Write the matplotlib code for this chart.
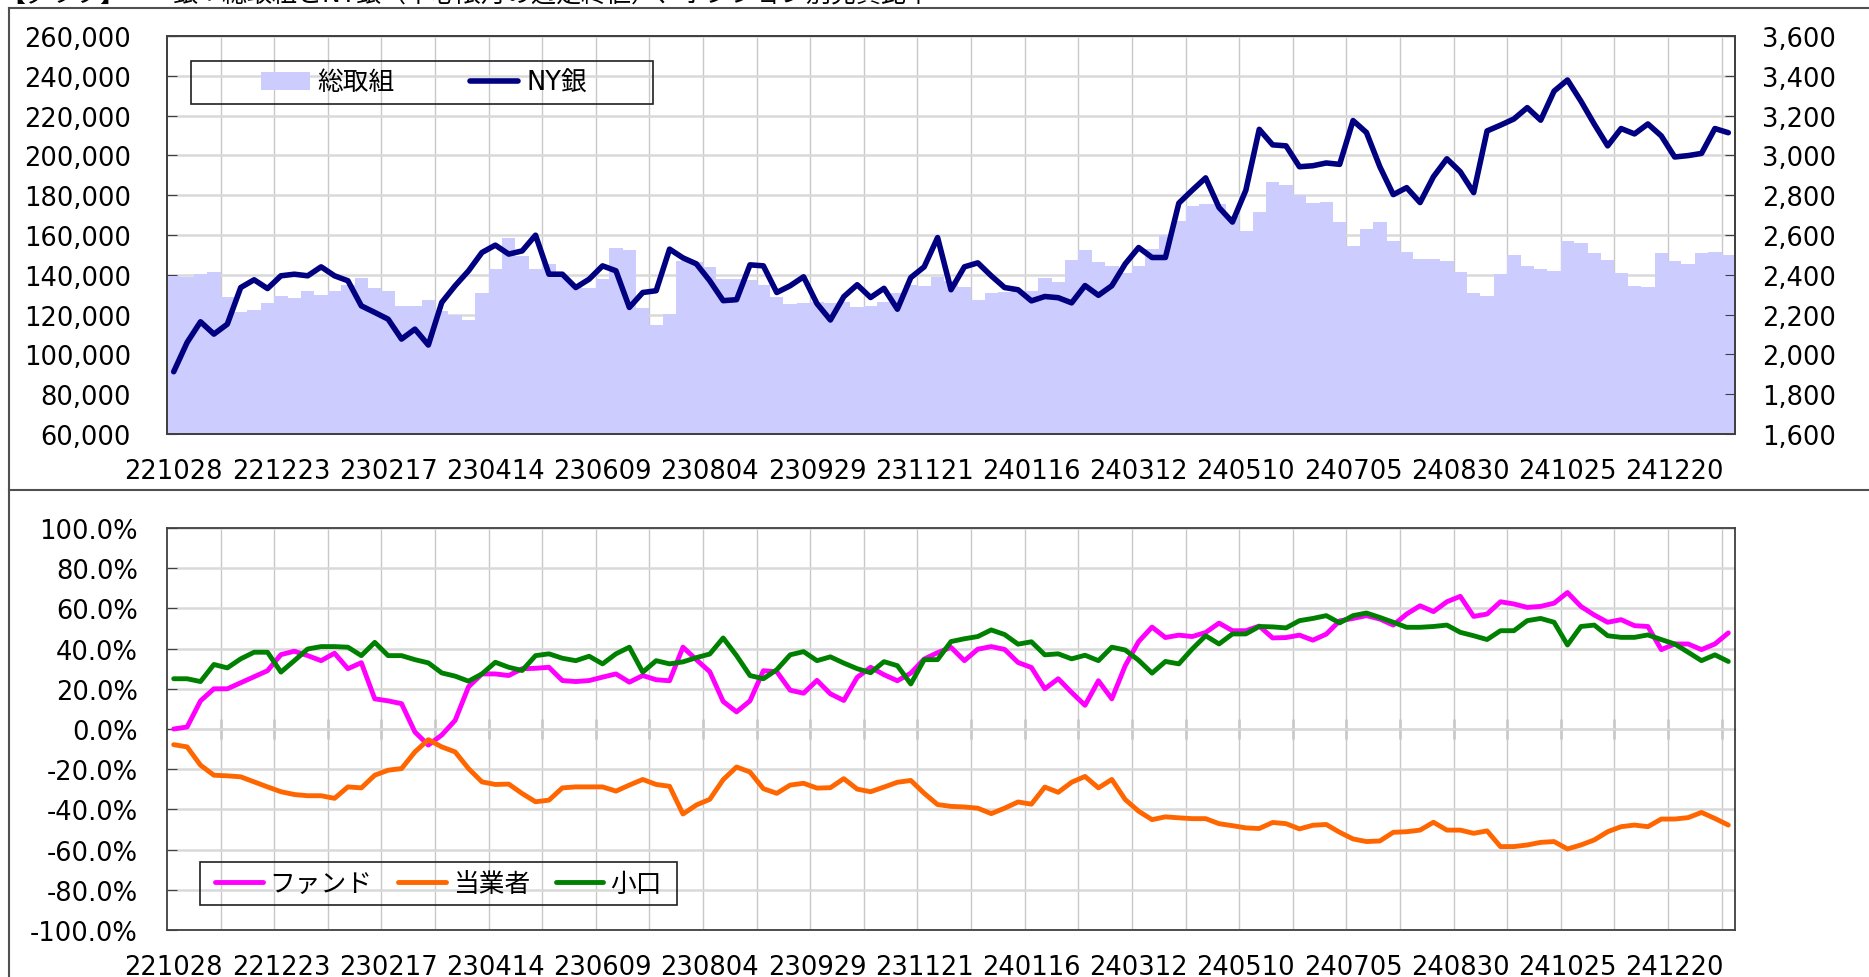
import numpy as np
import matplotlib
matplotlib.use("Agg")
import matplotlib.pyplot as plt
from matplotlib.lines import Line2D
from matplotlib.patches import Rectangle, Patch
from matplotlib.ticker import FuncFormatter, MultipleLocator, NullFormatter

plt.rcParams['font.family'] = ['DejaVu Sans', 'Noto Sans CJK JP']
plt.rcParams['axes.unicode_minus'] = False

# ---- data (weekly, 221028 .. 250117) ----
tick_labels = ["221028", "221223", "230217", "230414", "230609", "230804", "230929",
               "231121", "240116", "240312", "240510", "240705", "240830", "241025", "241220"]

# 総取組 (thousand contracts)
oi = [139.2, 139.0, 140.2, 141.5, 129.0, 121.4, 122.4, 125.6, 129.4, 128.4,
      131.9, 129.9, 132.0, 135.0, 138.5, 133.5, 132.0, 124.1, 124.1, 127.3,
      121.6, 119.6, 117.2, 131.1, 142.8, 158.4, 149.5, 142.8, 145.4, 139.5,
      135.0, 133.6, 137.8, 153.7, 152.5, 123.4, 114.7, 120.3, 146.7, 146.2,
      144.0, 137.8, 138.1, 137.5, 135.1, 128.6, 125.4, 125.7, 126.1, 125.7,
      126.4, 123.9, 124.1, 126.4, 130.9, 134.8, 134.4, 138.8, 137.0, 134.1,
      127.4, 131.1, 131.3, 131.7, 131.7, 138.6, 136.4, 147.4, 152.5, 146.5,
      144.3, 140.9, 144.4, 153.0, 160.2, 167.0, 174.5, 175.5, 175.7, 169.6,
      161.9, 171.4, 186.8, 185.2, 180.1, 176.1, 176.5, 166.6, 154.5, 163.2,
      166.6, 157.0, 151.5, 147.8, 147.8, 146.8, 141.6, 130.9, 129.1, 140.3,
      149.8, 144.6, 142.9, 142.0, 157.1, 156.2, 151.0, 147.5, 141.1, 134.6,
      134.0, 151.0, 146.8, 145.6, 150.8, 151.5, 150.2]

# NY銀 (cents)
ny_silver = [1913, 2060, 2164, 2102, 2152, 2336, 2375, 2331, 2395, 2403,
             2395, 2440, 2395, 2370, 2244, 2211, 2177, 2077, 2127, 2047,
             2261, 2345, 2420, 2512, 2549, 2504, 2520, 2599, 2403, 2403,
             2336, 2378, 2445, 2420, 2236, 2311, 2320, 2529, 2485, 2455,
             2370, 2270, 2275, 2450, 2445, 2311, 2345, 2390, 2255, 2173,
             2290, 2350, 2286, 2332, 2227, 2386, 2440, 2587, 2325, 2440,
             2460, 2395, 2336, 2325, 2269, 2291, 2285, 2259, 2346, 2297,
             2345, 2455, 2537, 2487, 2487, 2760, 2825, 2887, 2738, 2665,
             2825, 3131, 3053, 3048, 2943, 2948, 2962, 2955, 3175, 3115,
             2943, 2803, 2838, 2763, 2893, 2983, 2918, 2813, 3123, 3152,
             3183, 3240, 3177, 3323, 3379, 3273, 3157, 3048, 3135, 3108,
             3158, 3098, 2992, 2999, 3010, 3135, 3114]

# 売買比率 (%)
fund = [0, 1, 14, 20, 20, 23, 26, 29, 37, 38.7,
        36.5, 34, 37.7, 30, 33, 15, 14, 12.6, -1.5, -8,
        -3, 4.3, 21, 27.4, 27.4, 26.6, 30, 30.2, 30.7, 24.1,
        23.6, 24.1, 25.8, 27.4, 23.3, 26.6, 24.5, 24, 40.7, 34.5,
        28.5, 13.7, 8.5, 14, 29, 28.5, 19.3, 17.8, 24.2, 17.5,
        14.2, 25.7, 30.7, 27, 24, 27.8, 34.8, 38, 40.6, 34,
        39.7, 41, 39.6, 33.1, 30.6, 20, 25, 18.2, 11.8, 24,
        15, 31.5, 43.5, 50.7, 45.5, 46.7, 46, 48, 52.7, 48.9,
        48.9, 51.2, 45.3, 45.5, 46.7, 44.2, 47.2, 53.8, 55, 56.4,
        54.7, 51.7, 57.2, 61.3, 58.4, 63.3, 66, 56, 57.2, 63.3,
        62.2, 60.5, 61, 62.6, 67.9, 61, 56.7, 53.1, 54.4, 51.4,
        51, 39.5, 42.3, 42.3, 39.5, 42.3, 47.8]

commercial = [-7.8, -8.9, -18, -23, -23.3, -23.8, -26.3, -28.8, -31.2, -32.6,
              -33.2, -33.2, -34.5, -28.8, -29.3, -23, -20.5, -19.7, -11.4, -5.3,
              -8.9, -11.4, -19.7, -26.3, -27.6, -27.4, -32.1, -36.2, -35.4, -29.3,
              -28.8, -28.8, -28.8, -30.9, -27.9, -25.1, -27.6, -28.5, -42.3, -37.8,
              -35, -25.2, -18.9, -21.4, -29.7, -32, -27.9, -27, -29.4, -29.2,
              -24.7, -29.9, -31.2, -28.9, -26.5, -25.6, -32, -37.6, -38.5, -38.8,
              -39.4, -42.1, -39.4, -36.3, -37.4, -28.9, -31.5, -26.5, -23.6, -29.3,
              -25.1, -35.1, -40.9, -45.1, -43.7, -44.2, -44.6, -44.6, -47.1, -48.1,
              -49.2, -49.5, -46.5, -47.1, -49.7, -47.9, -47.5, -51.4, -54.7, -56,
              -55.7, -51.4, -51.1, -50.3, -46.4, -50.3, -50.3, -51.9, -50.7, -58.5,
              -58.5, -57.7, -56.4, -56, -59.7, -57.7, -55.2, -51.1, -48.6, -47.8,
              -48.6, -44.8, -44.8, -44.1, -41.5, -44.5, -47.8]

small = [25, 25, 23.6, 32.1, 30.4, 34.9, 38.2, 38.2, 28.3, 34,
         39.8, 41, 41, 40.7, 36.5, 43.1, 36.5, 36.5, 34.5, 32.9,
         27.9, 26.3, 23.8, 27.4, 33.2, 30.7, 29.1, 36.5, 37.4, 35.2,
         34, 36.2, 32.4, 37.4, 40.7, 28.3, 34, 32.4, 33.4, 35.5,
         37.3, 45.3, 36.5, 26.6, 25, 29.5, 36.9, 38.5, 34, 35.9,
         32.8, 30, 28, 33.5, 31.5, 22.4, 34.5, 34.5, 43.5, 44.9,
         46, 49.3, 47, 42.2, 43.4, 36.9, 37.4, 34.9, 36.7, 34,
         40.7, 39.3, 34.2, 27.8, 33.6, 32.4, 39.8, 46.4, 42.3, 47.3,
         47.3, 51, 50.8, 50.3, 53.9, 55, 56.4, 52.8, 56.4, 57.7,
         55.5, 53.1, 50.6, 50.6, 51, 51.7, 48.1, 46.4, 44.5, 48.9,
         48.9, 53.9, 55, 53.1, 41.8, 51, 51.7, 46.4, 45.6, 45.6,
         46.8, 44.5, 42.3, 38.2, 34, 36.9, 33.6]

n = len(oi)
x = np.arange(n)
oi_contracts = np.array(oi) * 1000

W, H = 1869, 978
fig = plt.figure(figsize=(W / 100, H / 100), dpi=100)

def fx(px):
    return px / W

def fy(py):
    return 1 - py / H

FS = 18.5
SPINE = '#404040'
BAR = '#ccccff'
label_pos = np.arange(0, n, 8)[:len(tick_labels)]
grid_pos = np.arange(3.5, n - 1, 4)

# outer sheet frame (cut off like the reference)
for xs, ys in [((9, W), (9, 9)), ((9, 9), (9, H)), ((9, W), (491, 491))]:
    fig.add_artist(Line2D([fx(v) for v in xs], [fy(v) for v in ys], color='#505050', lw=1.5))

fig.text(fx(0), fy(7), "【グラフ】", fontsize=18, va='bottom', ha='left')
fig.text(fx(172), fy(7), "銀：総取組とNY銀（中心限月の週足終値）、ポジション別売買比率",
         fontsize=18, va='bottom', ha='left')

# ---- top panel ----
ax = fig.add_axes([fx(167), fy(435), (1735 - 167) / W, (435 - 37) / H])
ax.set_axisbelow(True)
# zero-gap columns as one filled step outline (no seams between weeks)
ax.stairs(oi_contracts, edges=np.arange(n + 1) - 0.5, baseline=0, fill=True,
          color=BAR, zorder=2)
for g in grid_pos:
    ax.axvline(g, color='#c8c8c8', lw=1.0, zorder=0.3)
ax.set_xlim(-0.5, n - 0.5)
ax.set_ylim(60000, 260000)
ax.yaxis.set_major_locator(MultipleLocator(20000))
ax.yaxis.set_major_formatter(FuncFormatter(lambda v, p: f"{v:,.0f}"))
ax.yaxis.grid(True, color='#d9d9d9', lw=1.8, zorder=0.3)
ax.set_xticks(label_pos)
ax.set_xticklabels(tick_labels)
ax.set_xticks(np.arange(7.5, n - 2, 8), minor=True)
ax.tick_params(axis='x', which='major', length=0, labelsize=FS, pad=17)
ax.tick_params(axis='x', which='minor', direction='in', length=7, color=SPINE)
ax.tick_params(axis='y', direction='in', length=7, color=SPINE, labelsize=FS, pad=26)
for s in ax.spines.values():
    s.set_color(SPINE)
    s.set_linewidth(1.3)
    s.set_zorder(5)

ax2 = ax.twinx()
ax2.plot(x, ny_silver, color='#000080', lw=4.0, solid_capstyle='round', solid_joinstyle='round')
ax2.set_ylim(1600, 3600)
ax2.yaxis.set_major_locator(MultipleLocator(200))
ax2.yaxis.set_major_formatter(FuncFormatter(lambda v, p: f"{v:,.0f}"))
ax2.tick_params(axis='y', direction='in', length=7, color=SPINE, labelsize=FS, pad=19.5)
for s in ax2.spines.values():
    s.set_color(SPINE)
    s.set_linewidth(1.3)

# top legend
fig.add_artist(Rectangle((fx(191), fy(105)), (653 - 191) / W, (105 - 62) / H,
                         transform=fig.transFigure, fill=False, ec='#202020', lw=1.2))
h1 = [Patch(facecolor=BAR, edgecolor='none'),
      Line2D([], [], color='#000080', lw=4.0, solid_capstyle='round')]
fig.legend(h1, ["総取組", "NY銀"], loc='center', bbox_to_anchor=(fx(424), fy(83.5)),
           ncol=2, frameon=False, fontsize=FS, handlelength=1.9, handletextpad=0.3,
           columnspacing=2.9)

# ---- bottom panel ----
bx = fig.add_axes([fx(167), fy(931), (1735 - 167) / W, (931 - 529) / H])
bx.set_axisbelow(True)
for g in grid_pos:
    bx.axvline(g, color='#c8c8c8', lw=1.0, zorder=0.5)
bx.plot(x, fund, color='#ff00ff', lw=3.5, solid_capstyle='round', solid_joinstyle='round', zorder=3)
bx.plot(x, commercial, color='#ff6600', lw=3.5, solid_capstyle='round', solid_joinstyle='round', zorder=3)
bx.plot(x, small, color='#008000', lw=3.5, solid_capstyle='round', solid_joinstyle='round', zorder=3)
bx.set_xlim(-0.5, n - 0.5)
bx.set_ylim(-100, 100)
bx.yaxis.set_major_locator(MultipleLocator(20))
bx.yaxis.set_major_formatter(FuncFormatter(lambda v, p: f"{v:.1f}%"))
bx.yaxis.grid(True, color='#d9d9d9', lw=1.8)
bx.set_xticks(label_pos)
bx.set_xticklabels(tick_labels)
bx.tick_params(axis='x', length=0, labelsize=FS, pad=17)
bx.tick_params(axis='y', direction='in', length=7, color=SPINE, labelsize=FS, pad=21)
for s in bx.spines.values():
    s.set_color(SPINE)
    s.set_linewidth(1.3)

zero = bx.secondary_xaxis(0.5)
zero.set_xticks(grid_pos)
zero.xaxis.set_major_formatter(NullFormatter())
zero.tick_params(axis='x', direction='inout', length=14, width=1.0, color='#202020')
zero.spines['bottom'].set_color('#202020')
zero.spines['bottom'].set_linewidth(1.3)

fig.add_artist(Rectangle((fx(200), fy(906)), (677 - 200) / W, (906 - 863) / H,
                         transform=fig.transFigure, fill=False, ec='#202020', lw=1.2))
h2 = [Line2D([], [], color='#ff00ff', lw=3.5, solid_capstyle='round'),
      Line2D([], [], color='#ff6600', lw=3.5, solid_capstyle='round'),
      Line2D([], [], color='#008000', lw=3.5, solid_capstyle='round')]
fig.legend(h2, ["ファンド", "当業者", "小口"], loc='center', bbox_to_anchor=(fx(438.5), fy(884.5)),
           ncol=3, frameon=False, fontsize=FS, handlelength=1.85, handletextpad=0.27,
           columnspacing=1.0)

fig.savefig("out.png", dpi=100)
